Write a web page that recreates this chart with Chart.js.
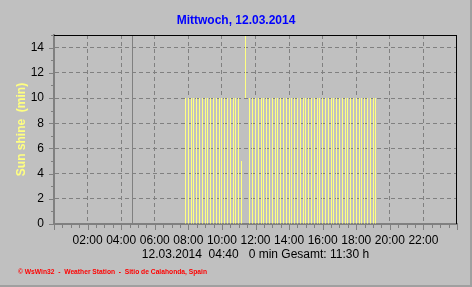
<!DOCTYPE html>
<html>
<head>
<meta charset="utf-8">
<script src="https://cdn.jsdelivr.net/npm/chart.js@4/dist/chart.umd.min.js"></script>
<style>
html,body{margin:0;padding:0;background:#c0c0c0;}
canvas{display:block;}
</style>
</head>
<body>
<canvas id="c" width="472" height="287"></canvas>
<script>
// ---- data ----
const chartTitle = "Mittwoch, 12.03.2014";
const yAxisTitle = "Sun shine  (min)";
const infoLine = "12.03.2014  04:40   0 min Gesamt: 11:30 h";
const footerText = "\u00A9 WsWin32  -  Weather Station  -  Sitio de Calahonda, Spain";

const times = [
  "07:50","08:00","08:10","08:20","08:30","08:40","08:50",
  "09:00","09:10","09:20","09:30","09:40","09:50",
  "10:00","10:10","10:20","10:30","10:40","10:50",
  "11:00","11:10","11:20","11:30","11:40","11:50",
  "12:00","12:10","12:20","12:30","12:40","12:50",
  "13:00","13:10","13:20","13:30","13:40","13:50",
  "14:00","14:10","14:20","14:30","14:40","14:50",
  "15:00","15:10","15:20","15:30","15:40","15:50",
  "16:00","16:10","16:20","16:30","16:40","16:50",
  "17:00","17:10","17:20","17:30","17:40","17:50",
  "18:00","18:10","18:20","18:30","18:40","18:50",
  "19:00","19:10"
];
const sunshine = [
  10,10,10,10,10,10,10,
  10,10,10,10,10,10,
  10,10,10,10,10,10,
  10,5,0,0,10,10,
  10,10,10,10,10,10,
  10,10,10,10,10,10,
  10,10,10,10,10,10,
  10,10,10,10,10,10,
  10,10,10,10,10,10,
  10,10,10,10,10,10,
  10,10,10,10,10,10,
  10,10
];
const markerTime = "11:25";
const markerRange = [10, 15];
const cursorTime = "04:40";
const xTickHours = [2,4,6,8,10,12,14,16,18,20,22];
const yTicks = [0,2,4,6,8,10,12,14];
const yMax = 15;

// ---- helpers ----
function toHours(t){ const p = t.split(":"); return (+p[0]) + (+p[1])/60; }
function pad2(n){ return (n<10?"0":"")+n; }

const barPoints = times.map((t,i)=>({x:toHours(t), y:sunshine[i]}));
const markerPoints = [{x:toHours(markerTime), y:markerRange}];

const FONT = '"Liberation Sans", Arial, sans-serif';

const bgPlugin = {
  id:'bg',
  beforeDraw(chart){
    const ctx = chart.ctx;
    ctx.save();
    ctx.fillStyle = '#c0c0c0';
    ctx.fillRect(0,0,chart.width,chart.height);
    ctx.restore();
  },
  beforeDatasetsDraw(chart){
    // snap thin bars to whole pixels so they stay crisp
    chart.data.datasets.forEach((d,i)=>{
      chart.getDatasetMeta(i).data.forEach(el=>{ el.x = Math.floor(el.x) + 0.5; });
    });
    const ctx = chart.ctx, a = chart.chartArea, xs = chart.scales.x;
    const cx = Math.round(xs.getPixelForValue(toHours(cursorTime))) + 0.5;
    ctx.save();
    ctx.strokeStyle = '#808080';
    ctx.lineWidth = 1;
    ctx.beginPath(); ctx.moveTo(cx, a.top); ctx.lineTo(cx, a.bottom); ctx.stroke();
    ctx.restore();
  },
  afterDraw(chart){
    const ctx = chart.ctx, a = chart.chartArea, xs = chart.scales.x, ys = chart.scales.y;
    ctx.save();
    // top & right frame of plot
    ctx.strokeStyle = '#000000'; ctx.lineWidth = 1;
    ctx.beginPath();
    ctx.moveTo(a.left, a.top+0.5); ctx.lineTo(a.right, a.top+0.5);
    ctx.moveTo(a.right-0.5, a.top); ctx.lineTo(a.right-0.5, a.bottom);
    ctx.stroke();
    // minor ticks x
    ctx.strokeStyle = '#808080';
    ctx.beginPath();
    for (let h=0; h<=24; h+=0.5){
      const px = Math.round(xs.getPixelForValue(h)) + 0.5;
      const len = (h % 2 === 0) ? 5 : 3;
      ctx.moveTo(px, a.bottom+1); ctx.lineTo(px, a.bottom+1+len);
    }
    // minor ticks y
    for (let v=0; v<=yMax; v+=1){
      const py = Math.round(ys.getPixelForValue(v)) + 0.5;
      const len = (v % 2 === 0) ? 4 : 2;
      ctx.moveTo(a.left-1, py); ctx.lineTo(a.left-1-len, py);
    }
    ctx.stroke();
    // footer
    ctx.fillStyle = '#ff0000';
    ctx.font = 'bold 8px ' + FONT;
    ctx.textBaseline = 'alphabetic';
    ctx.textAlign = 'left';
    ctx.fillText(footerText, 18, 274, 189);
    // outer frame right/bottom
    ctx.fillStyle = '#a0a0a0';
    ctx.fillRect(chart.width-2, 0, 2, chart.height);
    ctx.fillRect(0, chart.height-2, chart.width, 2);
    ctx.restore();
  }
};

new Chart(document.getElementById('c'), {
  type: 'bar',
  data: {
    datasets: [
      { data: barPoints, backgroundColor: '#ffff80', borderWidth: 0, barThickness: 1, inflateAmount: 0, grouped: false },
      { data: markerPoints, backgroundColor: '#ffff80', borderWidth: 0, barThickness: 1, inflateAmount: 0, grouped: false }
    ]
  },
  options: {
    responsive: false,
    devicePixelRatio: 1,
    animation: false,
    events: [],
    layout: { padding: 0 },
    plugins: {
      legend: { display: false },
      tooltip: { enabled: false },
      title: {
        display: true,
        text: chartTitle,
        color: '#0000ff',
        font: { family: FONT, size: 12, weight: 'bold', lineHeight: 1.2 },
        padding: { top: 13, bottom: 7.6 }
      }
    },
    scales: {
      x: {
        type: 'linear',
        min: 0, max: 24,
        offset: false,
        afterFit(s){ s.height = 63; },
        afterBuildTicks(s){ s.ticks = xTickHours.map(v=>({value:v})); },
        ticks: {
          autoSkip: false, maxRotation: 0, padding: 9,
          color: '#000000',
          font: { family: FONT, size: 12 },
          callback: (v)=> pad2(v) + ":00"
        },
        grid: { color: '#808080', drawTicks: false, offset: false, lineWidth: 1 },
        border: { display: true, color: '#808080', width: 2, dash: [4,3] },
        title: {
          display: true, text: infoLine, color: '#000000',
          font: { family: FONT, size: 12, lineHeight: 1.2 },
          padding: { top: 0, bottom: 25 }
        }
      },
      y: {
        min: 0, max: yMax,
        afterFit(s){ s.width = 54; },
        afterBuildTicks(s){ s.ticks = yTicks.map(v=>({value:v})); },
        ticks: {
          padding: 10, color: '#000000',
          font: { family: FONT, size: 12 }
        },
        grid: { color: '#808080', drawTicks: false, lineWidth: 1 },
        border: { display: true, color: '#808080', width: 2, dash: [4,3] },
        title: {
          display: true, text: yAxisTitle, color: '#ffff80',
          font: { family: FONT, size: 12, weight: 'bold', lineHeight: 1.2 },
          padding: { top: 14.5, bottom: 0 }
        }
      },
      yRight: {
        position: 'right',
        display: true,
        min: 0, max: yMax,
        afterFit(s){ s.width = 15; },
        ticks: { display: false },
        grid: { display: false, drawOnChartArea: false, drawTicks: false },
        border: { display: false }
      }
    }
  },
  plugins: [bgPlugin]
});
</script>
</body>
</html>
